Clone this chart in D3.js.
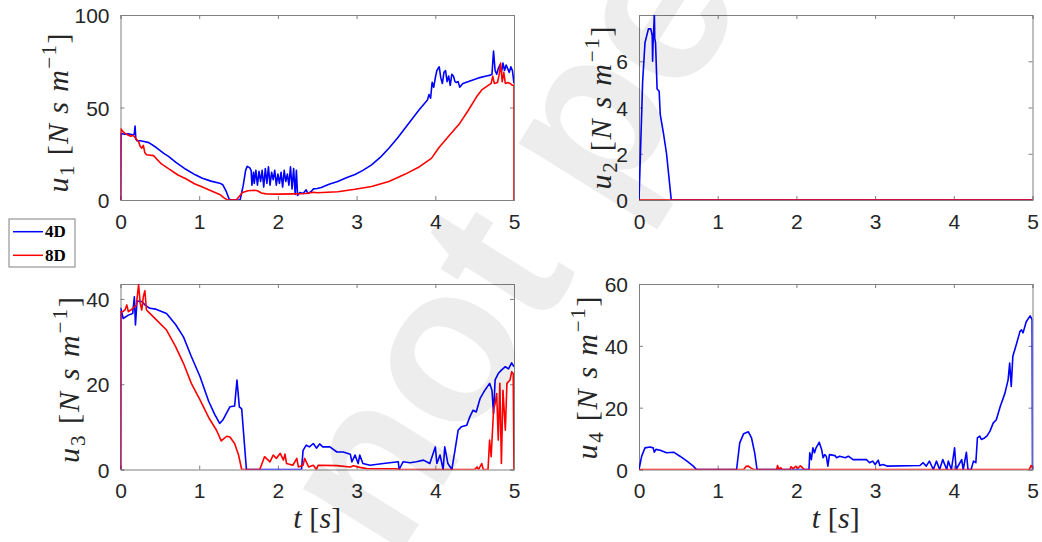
<!DOCTYPE html>
<html>
<head>
<meta charset="utf-8">
<script src="https://cdn.jsdelivr.net/npm/d3@7"></script>
<style>
  html, body { margin: 0; padding: 0; background: #fff; }
  svg { display: block; }
</style>
</head>
<body>
<svg id="fig" width="1042" height="542"></svg>
<script>
// Control inputs u1..u4 over time, 4D vs 8D controller. Each series is a list of [t, u] samples.
const seriesNames = ["4D", "8D"];
const seriesColors = ["#0000ff", "#ff0000"];
const timeTicks = [0, 1, 2, 3, 4, 5];

const u1Ticks = [0, 50, 100];
const u2Ticks = [0, 2, 4, 6];
const u3Ticks = [0, 20, 40];
const u4Ticks = [0, 20, 40, 60];

const u1Max = 100, u2Max = 8, u3Max = 43.5, u4Max = 60;

const u1_4D = [[0,0],[0.005,36],[0.05,35.5],[0.1,35.8],[0.15,35.3],[0.175,35.5],[0.185,40],[0.195,33],[0.21,32],[0.25,32],[0.3,31.6],[0.36,31],[0.45,28.5],[0.55,25.2],[0.61,23.6],[0.7,20.5],[0.83,16.6],[0.95,13.6],[1.04,11.8],[1.15,10.2],[1.26,9.1],[1.3,8.2],[1.34,5],[1.38,0.5],[1.40,0],[1.52,0],[1.56,8],[1.59,16],[1.61,18.2],[1.64,17.5],[1.66,16],[1.67,8],[1.69,15],[1.70,9],[1.72,16],[1.74,8],[1.76,15.5],[1.78,10],[1.80,16],[1.82,7],[1.84,17],[1.86,9],[1.88,18],[1.90,8],[1.92,15],[1.94,11],[1.96,16],[1.98,8],[2.00,14],[2.02,9],[2.04,15],[2.06,7],[2.08,16],[2.10,10],[2.12,14],[2.14,8],[2.16,18],[2.18,6],[2.20,17],[2.22,3],[2.235,16],[2.25,2.5],[2.28,4],[2.32,3.5],[2.36,5.5],[2.38,3.5],[2.42,4.5],[2.45,6],[2.5,6.2],[2.55,6.8],[2.65,8.5],[2.76,10],[2.87,12],[2.98,13.8],[3.08,16],[3.19,19],[3.3,23],[3.41,28],[3.52,33.5],[3.62,39],[3.7,43.5],[3.8,49],[3.86,52],[3.9,54],[3.92,57],[3.94,55],[3.96,63.6],[3.98,61],[4.0,66],[4.02,70],[4.05,72],[4.07,66],[4.09,63],[4.11,69],[4.13,70],[4.15,64],[4.17,67],[4.19,62],[4.21,68],[4.23,67],[4.25,64],[4.27,63.5],[4.29,64],[4.31,61],[4.35,63],[4.45,64.5],[4.55,66],[4.65,67],[4.7,67.5],[4.72,68],[4.74,80.5],[4.76,70],[4.78,68],[4.80,71],[4.82,73],[4.84,69],[4.86,74],[4.88,70],[4.90,73],[4.92,71],[4.94,69],[4.96,72],[4.98,70],[5.0,63]];
const u1_8D = [[0,0],[0.003,38.5],[0.03,37],[0.06,36],[0.1,35],[0.13,34.5],[0.16,35],[0.2,33],[0.23,31.5],[0.25,29],[0.27,28],[0.29,29.5],[0.31,25.5],[0.33,24.5],[0.42,24],[0.52,19.5],[0.61,17],[0.73,13.5],[0.83,11.5],[0.94,8.8],[1.04,7],[1.15,5],[1.26,3],[1.32,1],[1.36,0],[1.47,0],[1.5,1.5],[1.55,4],[1.62,5],[1.7,5.3],[1.74,5],[1.79,3.8],[1.85,3.3],[2.0,3.2],[2.2,3.3],[2.35,3.5],[2.45,4.2],[2.5,3.9],[2.76,4.5],[2.98,5.8],[3.19,7.3],[3.41,10],[3.62,14],[3.8,18],[3.95,22.5],[4.05,28.5],[4.18,35],[4.31,41.4],[4.42,48.5],[4.52,55.5],[4.59,59.5],[4.65,61.3],[4.71,63],[4.73,67],[4.75,63],[4.79,63.5],[4.81,67.5],[4.83,74],[4.85,64],[4.87,69],[4.89,63],[4.92,63.5],[4.95,63],[4.98,62],[5.0,62],[5.0,0]];

const u2_4D = [[0,0],[0.02,2.2],[0.046,5.1],[0.076,6.8],[0.12,7.4],[0.15,7.4],[0.168,7.1],[0.173,6.0],[0.18,6.9],[0.19,7.6],[0.195,8.1],[0.2,7.0],[0.21,6.8],[0.23,4.8],[0.256,4.7],[0.27,3.7],[0.31,2.9],[0.35,2.0],[0.41,0],[5,0]];
const u2_8D = [[0,0],[5,0]];

const u3_4D = [[0,0],[0.003,37.8],[0.034,35.4],[0.1,36.2],[0.155,36.6],[0.176,40.5],[0.19,33.9],[0.21,39.5],[0.27,39.4],[0.31,38.6],[0.373,37.8],[0.45,37.6],[0.585,36.6],[0.7,34],[0.8,31.1],[0.9,26.5],[1.01,21.8],[1.12,16],[1.2,12.8],[1.26,10.8],[1.3,11.6],[1.39,14.7],[1.45,14.9],[1.48,21],[1.51,14.7],[1.54,14.2],[1.6,0],[2.3,0],[2.32,4.5],[2.36,5.7],[2.4,5.3],[2.45,6.1],[2.49,5.0],[2.53,6.0],[2.57,5.3],[2.66,5.3],[2.75,4.1],[2.83,4.1],[2.92,3.6],[2.94,1.8],[2.98,3.4],[3.02,1.4],[3.04,3.4],[3.08,1.4],[3.17,1.0],[3.34,1.4],[3.53,1.8],[3.54,0],[3.59,1.8],[3.68,1.6],[3.76,1.8],[3.85,2.2],[3.93,1.4],[4.0,5.3],[4.02,1.4],[4.06,3.4],[4.1,0],[4.12,5.3],[4.16,1.4],[4.21,0],[4.25,4.5],[4.29,9.2],[4.33,10],[4.4,10.4],[4.44,12.4],[4.48,13.9],[4.52,13.5],[4.57,16.7],[4.63,18.6],[4.69,20.2],[4.72,18.6],[4.74,13.1],[4.76,21],[4.8,22.5],[4.84,23.3],[4.89,24.1],[4.93,23.6],[4.97,25],[5.0,24.1]];
const u3_8D = [[0,0],[0.003,37],[0.03,37],[0.06,37.5],[0.08,38.6],[0.1,37],[0.13,37.4],[0.17,38],[0.2,38.5],[0.23,43.3],[0.25,39],[0.27,37.4],[0.29,40.5],[0.31,41.9],[0.33,37.4],[0.373,36.6],[0.45,35.2],[0.585,32.7],[0.7,28.8],[0.8,24.9],[0.9,20.2],[1.01,16.3],[1.12,12.2],[1.22,9.2],[1.28,6.7],[1.35,7.8],[1.39,7.6],[1.45,6.1],[1.5,3.4],[1.54,0],[1.77,0],[1.83,3],[1.9,1.8],[1.94,3.4],[1.98,2.6],[2.03,3.8],[2.07,2.2],[2.09,3.6],[2.11,1.4],[2.19,1.0],[2.24,2.6],[2.26,0.6],[2.32,1.0],[2.34,2.6],[2.39,0.6],[2.45,1.0],[2.49,0],[2.51,1],[2.75,0.9],[2.92,0.6],[2.96,0.9],[3.04,0.5],[3.13,0.2],[3.51,0.15],[3.55,0],[4.5,0],[4.53,0.6],[4.55,0],[4.59,1.4],[4.61,0],[4.67,0],[4.69,6.9],[4.71,3],[4.74,13.9],[4.76,15.5],[4.78,17.8],[4.8,6.9],[4.82,20.2],[4.84,1.4],[4.86,18.6],[4.89,9.2],[4.91,20.2],[4.95,21],[4.97,22.9],[4.99,22.5],[5.0,0]];

const u4_4D = [[0,0],[0.034,4.3],[0.076,7],[0.14,7.3],[0.18,7],[0.195,5.6],[0.215,6.5],[0.27,6.2],[0.35,5.4],[0.44,5.6],[0.52,4.3],[0.61,2.7],[0.69,1.1],[0.73,0],[1.24,0],[1.28,8.6],[1.33,11.6],[1.39,12.2],[1.43,10.2],[1.47,5.4],[1.5,0],[2.16,0],[2.17,5.4],[2.19,3.2],[2.21,7],[2.23,5.4],[2.25,7],[2.29,8.8],[2.32,6.5],[2.34,3.8],[2.36,4.8],[2.38,4.3],[2.4,1.1],[2.42,4.8],[2.49,4.5],[2.51,3.8],[2.55,4.3],[2.62,3.8],[2.66,4.3],[2.72,3.2],[2.89,3.2],[2.93,2.2],[2.97,2.7],[3.0,1.6],[3.04,3],[3.06,1.3],[3.1,1.6],[3.15,1.1],[3.57,1.3],[3.61,2.2],[3.65,1.1],[3.69,2.7],[3.74,0],[3.78,2.7],[3.82,0],[3.86,3.2],[3.91,0],[3.93,2.7],[3.97,0],[4.01,7],[4.03,0],[4.1,3.2],[4.12,0],[4.16,5.6],[4.18,0],[4.22,0],[4.25,2.7],[4.28,2.2],[4.3,10.2],[4.33,10.8],[4.35,9.7],[4.39,10.2],[4.42,10.8],[4.46,12.4],[4.5,15],[4.54,16.1],[4.59,20.4],[4.65,24.7],[4.69,29],[4.71,34.4],[4.73,26.9],[4.75,36.6],[4.8,40.9],[4.84,44.6],[4.86,45.2],[4.88,44.2],[4.92,47.8],[4.97,49.7],[4.995,48.5],[5.0,0]];
const u4_8D = [[0,0],[1.33,0],[1.36,1.0],[1.39,1.1],[1.42,0.5],[1.45,0],[1.75,0],[1.76,1.3],[1.78,0],[1.8,0.6],[1.82,0],[1.92,0],[1.93,0.9],[1.96,0.3],[1.99,1.0],[2.02,0.4],[2.05,1.2],[2.08,0.5],[2.1,0],[4.96,0],[4.98,1.3],[5.0,0.6]];

// Panel layout (pixel boxes) and per-panel label placement
const panels = [
  { sub: "1", data: [u1_4D, u1_8D], yMax: u1Max, yTicks: u1Ticks, box: [120.5, 15, 514, 200],   ylab: [68, 113, 159], xlab: false },
  { sub: "2", data: [u2_4D, u2_8D], yMax: u2Max, yTicks: u2Ticks, box: [639, 15, 1032.5, 200],  ylab: [611, 108, 163], xlab: false },
  { sub: "3", data: [u3_4D, u3_8D], yMax: u3Max, yTicks: u3Ticks, box: [120.5, 284, 514, 469.5], ylab: [79, 380, 166], xlab: true },
  { sub: "4", data: [u4_4D, u4_8D], yMax: u4Max, yTicks: u4Ticks, box: [639, 284, 1032.5, 469.5], ylab: [597, 378, 163], xlab: true }
];

const svg = d3.select("#fig");
const axisColor = "#808080";
const textColor = "#262626";
const tickFont = "'Liberation Sans', Arial, Helvetica, sans-serif";
const mathFont = "'Liberation Serif', 'Times New Roman', serif";
const tickLen = 4;

panels.forEach((p, i) => {
  const [x0, y0, x1, y1] = p.box;
  const x = d3.scaleLinear().domain([0, 5]).range([x0, x1]);
  const y = d3.scaleLinear().domain([0, p.yMax]).range([y1, y0]);

  const g = svg.append("g");
  const clipId = "clip" + i;
  g.append("clipPath").attr("id", clipId)
    .append("rect").attr("x", x0).attr("y", y0).attr("width", x1 - x0).attr("height", y1 - y0);

  // axes: bottom/left with labels, top/right mirrored ticks only, ticks pointing inward
  const bottom = d3.axisBottom(x).tickValues(timeTicks).tickSize(-tickLen).tickPadding(10).tickFormat(d3.format("d"));
  const top = d3.axisTop(x).tickValues(timeTicks).tickSize(-tickLen).tickFormat("");
  const left = d3.axisLeft(y).tickValues(p.yTicks).tickSize(-tickLen).tickPadding(11).tickFormat(d3.format("d"));
  const right = d3.axisRight(y).tickValues(p.yTicks).tickSize(-tickLen).tickFormat("");

  const ax = [
    g.append("g").attr("transform", `translate(0,${y1})`).call(bottom),
    g.append("g").attr("transform", `translate(0,${y0})`).call(top),
    g.append("g").attr("transform", `translate(${x0},0)`).call(left),
    g.append("g").attr("transform", `translate(${x1},0)`).call(right)
  ];
  ax.forEach(a => {
    a.select(".domain").attr("stroke", axisColor).attr("stroke-width", 1);
    a.selectAll(".tick line").attr("stroke", axisColor).attr("stroke-width", 1);
    a.selectAll(".tick text").attr("fill", textColor)
      .style("font-family", tickFont).style("font-size", "21px");
  });
  ax[0].selectAll(".tick text").attr("dy", "0.71em").attr("y", 14);
  ax[2].selectAll(".tick text").attr("dy", "0.36em");

  // data lines
  const line = d3.line().x(d => x(d[0])).y(d => y(d[1]));
  p.data.forEach((s, k) => {
    g.append("path").datum(s)
      .attr("clip-path", `url(#${clipId})`)
      .attr("fill", "none")
      .attr("stroke", seriesColors[k])
      .attr("stroke-width", 1.6)
      .attr("stroke-linejoin", "round")
      .attr("d", line);
  });

  // y label: u_i [N s m^-1]
  const [bx, cy, len] = p.ylab;
  const yl = g.append("text")
    .attr("transform", `translate(${bx},${cy}) rotate(-90)`)
    .attr("text-anchor", "middle")
    .attr("fill", textColor)
    .style("font-family", mathFont)
    .style("font-size", "30px")
    .attr("textLength", len)
    .attr("lengthAdjust", "spacing");
  yl.append("tspan").style("font-style", "italic").text("u");
  yl.append("tspan").attr("dy", 6).style("font-size", "21px").text(p.sub);
  yl.append("tspan").attr("dy", -6).text(" [");
  yl.append("tspan").style("font-style", "italic").text("N");
  yl.append("tspan").text(" ");
  yl.append("tspan").style("font-style", "italic").text("s");
  yl.append("tspan").text(" ");
  yl.append("tspan").style("font-style", "italic").text("m");
  yl.append("tspan").attr("dy", -12).style("font-size", "21px").text("\u22121");
  yl.append("tspan").attr("dy", 12).text("]");

  if (p.xlab) {
    const xl = g.append("text")
      .attr("x", (x0 + x1) / 2).attr("y", 528)
      .attr("text-anchor", "middle")
      .attr("fill", textColor)
      .style("font-family", mathFont)
      .style("font-size", "30px")
      .attr("textLength", 48)
      .attr("lengthAdjust", "spacing");
    xl.append("tspan").style("font-style", "italic").text("t");
    xl.append("tspan").text(" [");
    xl.append("tspan").style("font-style", "italic").text("s");
    xl.append("tspan").text("]");
  }
});

// legend
const leg = svg.append("g");
leg.append("rect").attr("x", 9).attr("y", 219).attr("width", 66).attr("height", 48)
  .attr("fill", "#fff").attr("stroke", axisColor).attr("stroke-width", 1);
seriesNames.forEach((name, k) => {
  const yy = 231.7 + k * 23.6;
  leg.append("line").attr("x1", 13).attr("x2", 43).attr("y1", yy).attr("y2", yy)
    .attr("stroke", seriesColors[k]).attr("stroke-width", 1.5);
  leg.append("text").attr("x", 45).attr("y", yy + 5.5)
    .attr("fill", "#000")
    .style("font-family", mathFont).style("font-weight", "bold").style("font-size", "17px")
    .text(name);
});

// watermark across the figure
const wm = svg.append("g").attr("transform", "translate(437,350) rotate(-58)");
const wmText = wm.append("text")
  .style("font-family", "'Liberation Sans', Arial, sans-serif")
  .style("font-size", "222px")
  .style("font-weight", "bold")
  .attr("fill", "#000").attr("fill-opacity", 0.07)
  .text("Preprint not peer reviewed");
const oExt = wmText.node().getExtentOfChar(10);
wmText.attr("x", -(oExt.x + oExt.width / 2)).attr("y", -(oExt.y + oExt.height / 2));
</script>
</body>
</html>
